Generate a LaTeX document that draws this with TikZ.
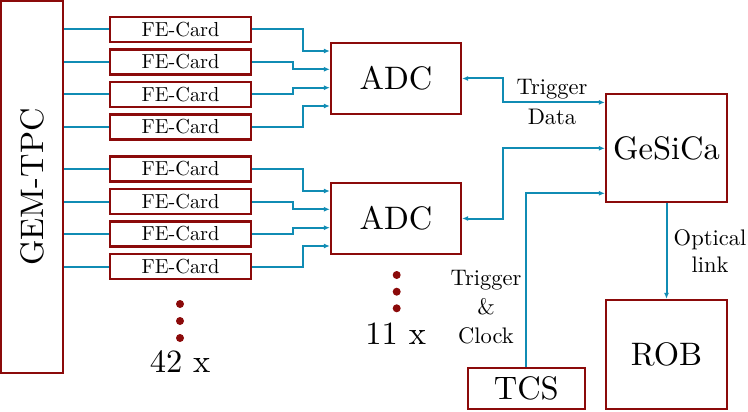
\documentclass[tikz,border=0pt]{standalone}
\usepackage{fontspec}
\setmainfont{lmroman10-regular.otf}
\usetikzlibrary{arrows.meta,calc}
\definecolor{boxred}{RGB}{139,10,10}
\definecolor{linkblue}{RGB}{16,140,180}
\begin{document}
\begin{tikzpicture}[x=1pt,y=-1pt,
  box/.style={draw=boxred, line width=2.2pt, inner sep=0pt, fill=white},
  bigtext/.style={font=\fontsize{32.5}{38}\selectfont},
  card/.style={box, minimum width=141pt, minimum height=25pt, font=\fontsize{20.3}{24}\selectfont},
  adcbox/.style={box, bigtext, minimum width=130pt, minimum height=71pt},
  link/.style={draw=linkblue, line width=2pt},
  tip/.style={-{Latex[length=6pt,width=5pt]}},
  tips/.style={{Latex[length=6pt,width=5pt]}-{Latex[length=6pt,width=5pt]}},
  lbl/.style={align=center, inner sep=0pt},
  dot/.style={circle, fill=boxred, inner sep=0pt, minimum size=8pt}
]
\useasboundingbox (0,0) rectangle (748,412);

% boxes
\node[box, bigtext, minimum width=62pt, minimum height=372pt] (gem) at (32,187) {\rotatebox{90}{GEM-TPC}};

\foreach \i/\y in {1/29.5,2/62,3/94.5,4/127,5/169,6/201.5,7/234,8/266.5}{
  \node[card] (fe\i) at (180.5,\y) {FE-Card};
}

\node[adcbox] (adcA) at (396,78.5) {ADC};
\node[adcbox] (adcB) at (396,218.5) {ADC};

\node[box, bigtext, minimum width=121pt, minimum height=108pt] (ges) at (666.5,148) {GeSiCa};
\node[box, bigtext, minimum width=121pt, minimum height=109pt] (rob) at (666.5,354.5) {ROB};
\node[box, bigtext, minimum width=117pt, minimum height=41pt] (tcs) at (526.3,388.7) {TCS};

% helper coordinates
\coordinate (jA) at (302.7,0);
\coordinate (jB) at (292.7,0);
\coordinate (lx) at (503,0);
\foreach \a in {A,B}{
  \coordinate (\a in1) at ($(adc\a.west)+(0,-27.5)$);
  \coordinate (\a in2) at ($(adc\a.west)+(0,-9.2)$);
  \coordinate (\a in3) at ($(adc\a.west)+(0,9.2)$);
  \coordinate (\a in4) at ($(adc\a.west)+(0,27.5)$);
}
\coordinate (g1) at ($(ges.west)+(0,-45.6)$);
\coordinate (g2) at ($(ges.west)+(0,0.3)$);
\coordinate (g3) at ($(ges.west)+(0,45.3)$);

% GEM-TPC to cards
\foreach \i in {1,...,8}{
  \draw[link] (gem.east |- fe\i.west) -- (fe\i.west);
}

% cards to ADCs
\draw[link,tip] (fe1.east) -| (jA |- Ain1) -- (Ain1);
\draw[link,tip] (fe2.east) -| (jB |- Ain2) -- (Ain2);
\draw[link,tip] (fe3.east) -| (jB |- Ain3) -- (Ain3);
\draw[link,tip] (fe4.east) -| (jA |- Ain4) -- (Ain4);
\draw[link,tip] (fe5.east) -| (jA |- Bin1) -- (Bin1);
\draw[link,tip] (fe6.east) -| (jB |- Bin2) -- (Bin2);
\draw[link,tip] (fe7.east) -| (jB |- Bin3) -- (Bin3);
\draw[link,tip] (fe8.east) -| (jA |- Bin4) -- (Bin4);

% ADC <-> GeSiCa
\draw[link,tips] (adcA.east) -| (lx |- g1) -- (g1);
\draw[link,tips] (adcB.east) -| (lx |- g2) -- (g2);

% TCS -> GeSiCa
\draw[link,tip] (tcs.north) |- (g3);

% GeSiCa -> ROB
\draw[link,tip] (ges.south) -- (rob.north);

% labels
\node[lbl, font=\fontsize{22.5}{30}\selectfont] (ltd) at (552,102) {Trigger\\Data};
\node[lbl, font=\fontsize{22.5}{29}\selectfont] (ltc) at (486,307) {Trigger\\\&\\Clock};
\node[lbl, font=\fontsize{22.5}{27}\selectfont] (lol) at (710,251.5) {Optical\\link};

% dots and multiplicities
\node[dot] (d1) at (180,304) {};
\node[dot] (d2) at (180,321) {};
\node[dot] (d3) at (180,338) {};
\node[bigtext, inner sep=0pt] (n42) at (180,361.7) {42 x};
\node[dot] (e1) at (396.7,275) {};
\node[dot] (e2) at (396.7,291.7) {};
\node[dot] (e3) at (396.7,308.3) {};
\node[bigtext, inner sep=0pt] (n11) at (395.7,334) {11 x};
\end{tikzpicture}
\end{document}
